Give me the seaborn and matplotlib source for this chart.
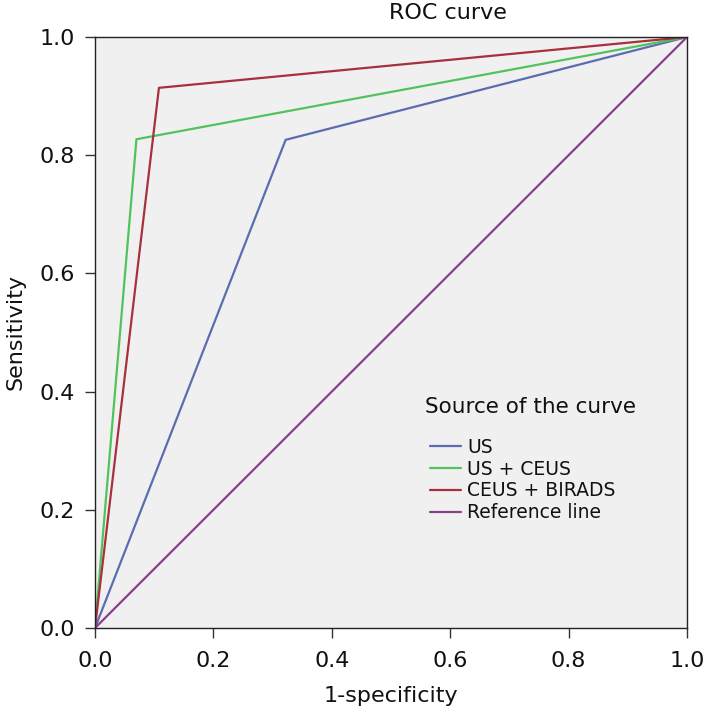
import pandas as pd
import matplotlib
matplotlib.use('Agg')
import matplotlib.pyplot as plt
import seaborn as sns

# ROC points (1-specificity, sensitivity)
curve_names = ['US', 'US + CEUS', 'CEUS + BIRADS', 'Reference line']
us_fpr = [0.0, 0.322, 1.0]
us_tpr = [0.0, 0.826, 1.0]
us_ceus_fpr = [0.0, 0.070, 1.0]
us_ceus_tpr = [0.0, 0.827, 1.0]
ceus_birads_fpr = [0.0, 0.108, 1.0]
ceus_birads_tpr = [0.0, 0.914, 1.0]
ref_fpr = [0.0, 1.0]
ref_tpr = [0.0, 1.0]
tick_values = [0.0, 0.2, 0.4, 0.6, 0.8, 1.0]

colors = ['#5b6db0', '#52c25c', '#a8303e', '#8a3f8c']

sns.set_theme(style='white')
plt.rcParams['font.family'] = ['DejaVu Sans']

# long table for seaborn
frames = []
for name, fpr, tpr in zip(curve_names,
                          [us_fpr, us_ceus_fpr, ceus_birads_fpr, ref_fpr],
                          [us_tpr, us_ceus_tpr, ceus_birads_tpr, ref_tpr]):
    frames.append(pd.DataFrame({'fpr': fpr, 'tpr': tpr, 'curve': name}))
roc_df = pd.concat(frames, ignore_index=True)

fig = plt.figure(figsize=(7.09, 7.15), dpi=100)
ax = fig.add_axes([95 / 709, 87 / 715, 592 / 709, 591 / 715])
ax.set_facecolor('#f0f0f0')

sns.lineplot(data=roc_df, x='fpr', y='tpr', hue='curve', hue_order=curve_names,
             palette=dict(zip(curve_names, colors)), sort=False, estimator=None,
             linewidth=1.6, ax=ax)

ax.set_xlim(0, 1)
ax.set_ylim(0, 1)
ax.set_xticks(tick_values)
ax.set_yticks(tick_values)
ax.set_xticklabels([f'{v:.1f}' for v in tick_values])
ax.set_yticklabels([f'{v:.1f}' for v in tick_values])
ax.tick_params(axis='both', direction='out', length=7.5, width=1, color='#333333',
               labelsize=16, labelcolor='#111111', bottom=True, left=True)
ax.tick_params(axis='x', pad=9)
ax.tick_params(axis='y', pad=7)
for side in ['top', 'right', 'bottom', 'left']:
    ax.spines[side].set_color('#222222')
    ax.spines[side].set_linewidth(1.0)

ax.set_xlabel('1-specificity', fontsize=16, labelpad=11, color='#111111')
ax.set_ylabel('Sensitivity', fontsize=16, labelpad=10, color='#111111')
fig.text(448 / 709, 1 - 13 / 715, 'ROC curve', ha='center', va='center',
         fontsize=16, color='#111111')

# legend title drawn separately so its gap to the entries matches
ax.text(0.557, 0.374, 'Source of the curve', transform=ax.transAxes,
        ha='left', va='center', fontsize=15.5, color='#111111')
leg = ax.legend(loc='upper left', bbox_to_anchor=(0.566, 0.322), frameon=False,
                fontsize=13.5, handlelength=1.65, handletextpad=0.32,
                labelspacing=0.15, borderaxespad=0, borderpad=0)
for txt in leg.get_texts():
    txt.set_color('#111111')

fig.savefig('out.png', dpi=100)
plt.close(fig)
